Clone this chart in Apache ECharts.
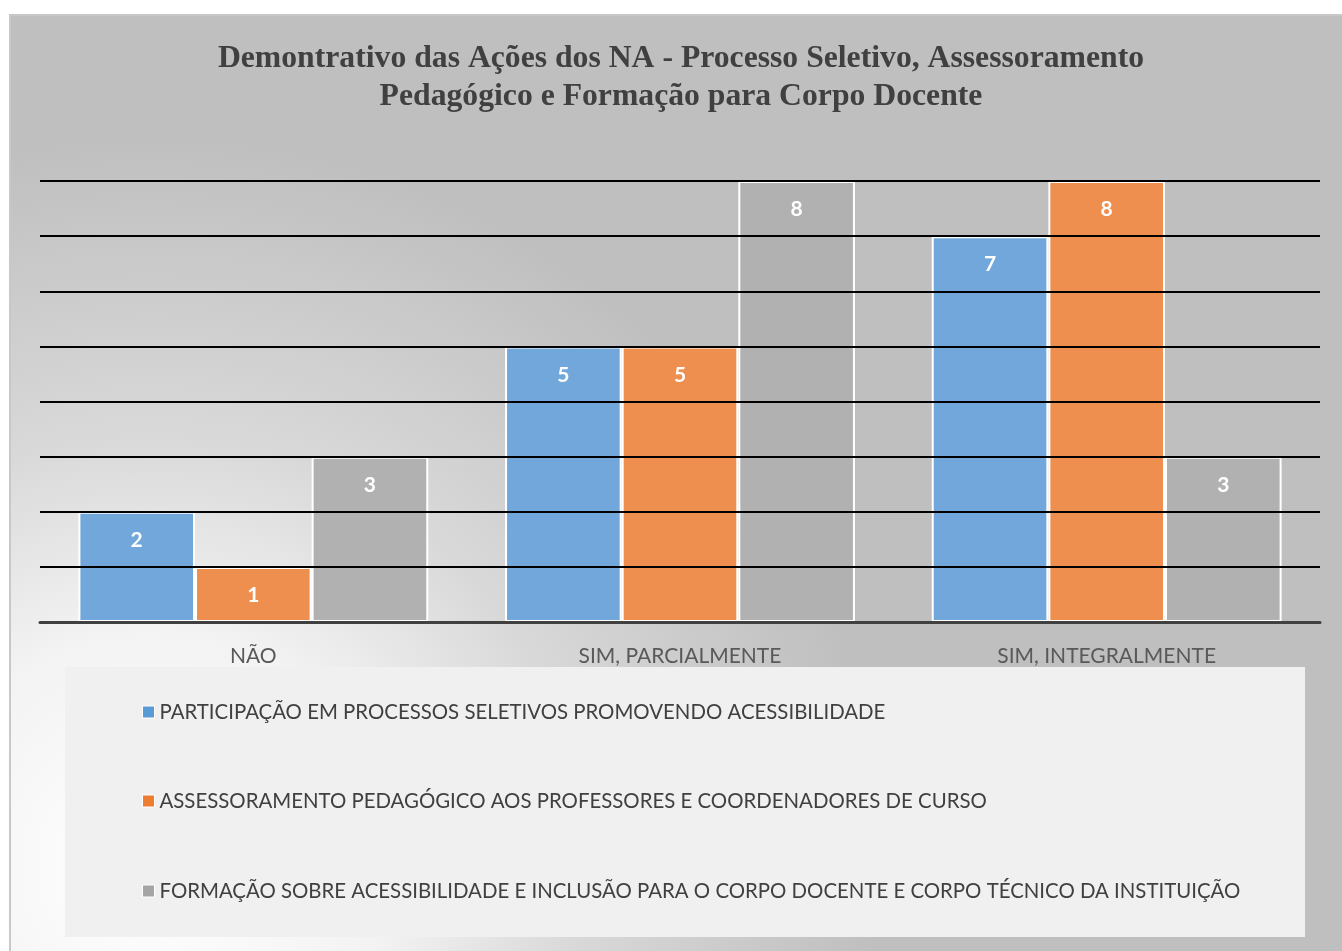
<!DOCTYPE html>
<html>
<head>
<meta charset="utf-8">
<script src="https://cdn.jsdelivr.net/npm/echarts@6/dist/echarts.min.js"></script>
<style>
  html, body { margin: 0; padding: 0; background: #fff; }
  #chart { width: 1342px; height: 951px; }
</style>
</head>
<body>
<div id="chart"></div>
<script>
// dados do gráfico
const categorias = ['NÃO', 'SIM, PARCIALMENTE', 'SIM, INTEGRALMENTE']
const nomesSeries = [
  'PARTICIPAÇÃO EM PROCESSOS SELETIVOS PROMOVENDO ACESSIBILIDADE',
  'ASSESSORAMENTO PEDAGÓGICO AOS PROFESSORES E COORDENADORES DE CURSO',
  'FORMAÇÃO SOBRE ACESSIBILIDADE E INCLUSÃO PARA O CORPO DOCENTE E CORPO TÉCNICO DA INSTITUIÇÃO'
]
const participacao = [2, 5, 7]
const assessoramento = [1, 5, 8]
const formacao = [3, 8, 3]

const coresBarra = ['#71A7DA', '#EE8F4F', '#B1B1B1']
const coresLegenda = ['#5B9BD5', '#ED7D31', '#A5A5A5']
const legendaTop = [702, 791, 881]

const chart = echarts.init(document.getElementById('chart'))

const valores = [participacao, assessoramento, formacao]

chart.setOption({
  animation: false,
  title: {
    text: 'Demontrativo das Ações dos NA - Processo Seletivo, Assessoramento\nPedagógico e Formação para Corpo Docente',
    left: 681,
    textAlign: 'center',
    top: 40,
    padding: 0,
    textStyle: {
      fontFamily: 'Liberation Serif',
      fontWeight: 'bold',
      fontSize: 31.7,
      lineHeight: 38,
      color: '#404040'
    }
  },
  graphic: [
    {
      type: 'rect',
      z: -10,
      shape: { x: 10, y: 15, width: 1340, height: 945 },
      style: {
        fill: new echarts.graphic.RadialGradient(0.105, 0.9, 0.77, [
          { offset: 0, color: '#FFFFFF' },
          { offset: 0.32, color: '#F3F3F3' },
          { offset: 0.6, color: '#D8D8D8' },
          { offset: 1, color: '#BFBFBF' }
        ]),
        stroke: '#C8C8C8',
        lineWidth: 2
      }
    },
    {
      type: 'rect',
      z: -9,
      shape: { x: 65, y: 667, width: 1240, height: 270 },
      style: { fill: '#F0F0F0' }
    }
  ],
  legend: nomesSeries.map((nome, i) => ({
    left: 142,
    top: legendaTop[i],
    padding: 0,
    itemWidth: 12,
    itemHeight: 12,
    itemGap: 5,
    icon: 'rect',
    data: [{ name: nome, itemStyle: { color: coresLegenda[i], borderColor: '#fff', borderWidth: 1 } }],
    textStyle: { fontFamily: 'Lato', fontSize: 20.4, color: '#404040' }
  })),
  grid: {
    left: 40,
    right: 22,
    top: 181,
    bottom: 951 - 622
  },
  xAxis: {
    type: 'category',
    data: categorias,
    z: 5,
    axisLine: { lineStyle: { color: '#404040', width: 3 } },
    axisTick: { show: false },
    axisLabel: {
      margin: 24,
      fontFamily: 'Lato',
      fontSize: 21,
      color: '#595959'
    }
  },
  yAxis: {
    type: 'value',
    min: 0,
    max: 8,
    interval: 1,
    z: 4,
    axisLabel: { show: false },
    axisLine: { show: false },
    axisTick: { show: false },
    splitLine: { lineStyle: { color: '#000', width: 2 } }
  },
  series: nomesSeries.map((nome, i) => ({
    name: nome,
    type: 'bar',
    data: valores[i],
    barGap: '0%',
    barCategoryGap: '18%',
    itemStyle: { color: coresBarra[i], borderColor: '#fff', borderWidth: 2 },
    label: {
      show: true,
      position: 'insideTop',
      distance: 18,
      fontFamily: 'Lato',
      fontWeight: 'bold',
      fontSize: 21,
      color: '#fff'
    }
  }))
})
</script>
</body>
</html>
